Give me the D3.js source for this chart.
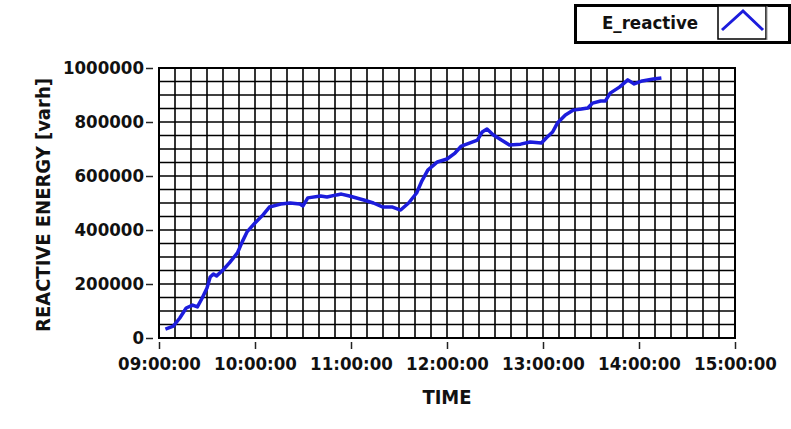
<!DOCTYPE html>
<html lang="en">
<head>
<meta charset="UTF-8" />
<style>
  body { margin: 0; background: #fff; }
  text { font-family: "DejaVu Sans", sans-serif; font-stretch: condensed; font-weight: bold; fill: #111; }
</style>
</head>
<body>
<svg width="791" height="429"></svg>
<script src="https://d3js.org/d3.v7.min.js"></script>
<script>
// sample times (HH:MM) and reactive energy in varh
var times = ["09:04","09:09","09:13","09:17","09:21","09:24","09:27","09:30","09:32","09:34",
  "09:36","09:40","09:44","09:49","09:52","09:55","10:00","10:05","10:09","10:16",
  "10:22","10:28","10:30","10:33","10:41","10:45","10:51","10:54","10:59","11:08",
  "11:14","11:20","11:26","11:31","11:36","11:41","11:44","11:48","11:54","12:00",
  "12:05","12:09","12:14","12:19","12:22","12:25","12:29","12:34","12:39","12:46",
  "12:52","12:59","13:02","13:06","13:09","13:14","13:19","13:24","13:28","13:31",
  "13:36","13:39","13:42","13:48","13:53","13:57","14:02","14:09","14:14"];
var energy = [33000,44000,74000,111000,122000,115000,148000,185000,226000,237000,
  230000,252000,278000,315000,356000,393000,426000,456000,485000,496000,
  500000,496000,489000,519000,526000,522000,530000,533000,526000,511000,
  500000,485000,485000,474000,500000,537000,578000,622000,652000,663000,
  685000,711000,722000,733000,763000,774000,752000,733000,715000,718000,
  726000,722000,741000,763000,796000,826000,844000,848000,852000,870000,
  878000,878000,907000,930000,956000,941000,952000,959000,963000];
var xTickHours = [9, 10, 11, 12, 13, 14, 15];
var yTicks = [0, 200000, 400000, 600000, 800000, 1000000];
var seriesName = "E_reactive";

function toHours(s) {
    var p = s.split(":");
    return +p[0] + (+p[1]) / 60;
}
function hourLabel(h) {
    return (h < 10 ? "0" : "") + h + ":00:00";
}

var data = times.map(function (t, i) { return { h: toHours(t), v: energy[i] }; });

var svg = d3.select("svg");
var plotLeft = 159, plotRight = 735, plotTop = 68, plotBottom = 338;

var x = d3.scaleLinear().domain([9, 15]).range([plotLeft, plotRight]);
var y = d3.scaleLinear().domain([0, 1000000]).range([plotBottom, plotTop]);

// grid: 10 minute columns, 50000 varh rows
var grid = svg.append("g").attr("stroke", "#000").attr("stroke-width", 1.6);
grid.selectAll("line.v").data(d3.range(0, 37)).enter().append("line")
    .attr("x1", d => x(9 + d / 6)).attr("x2", d => x(9 + d / 6))
    .attr("y1", plotTop).attr("y2", plotBottom);
grid.selectAll("line.h").data(d3.range(0, 21)).enter().append("line")
    .attr("x1", plotLeft).attr("x2", plotRight)
    .attr("y1", d => y(d * 50000)).attr("y2", d => y(d * 50000));

svg.append("rect")
    .attr("x", plotLeft).attr("y", plotTop)
    .attr("width", plotRight - plotLeft).attr("height", plotBottom - plotTop)
    .attr("fill", "none").attr("stroke", "#000").attr("stroke-width", 2);

// the series
svg.append("path")
    .datum(data)
    .attr("fill", "none")
    .attr("stroke", "#1c1cdc")
    .attr("stroke-width", 3.5)
    .attr("stroke-linejoin", "round")
    .attr("d", d3.line().x(d => x(d.h)).y(d => y(d.v)));

// axes
var yAxis = svg.append("g")
    .attr("transform", "translate(153,0)")
    .call(d3.axisLeft(y).tickValues(yTicks).tickSize(7).tickPadding(2).tickFormat(d3.format("d")));
yAxis.select(".domain").remove();
yAxis.selectAll("line").attr("stroke", "#222").attr("stroke-width", 1.5);
yAxis.selectAll("text").attr("font-size", "18.5px").attr("fill", "#111");

var xAxis = svg.append("g")
    .attr("transform", "translate(0,342)")
    .call(d3.axisBottom(x).tickValues(xTickHours).tickSize(7).tickPadding(8).tickFormat(hourLabel));
xAxis.select(".domain").remove();
xAxis.selectAll("line").attr("stroke", "#222").attr("stroke-width", 1.5);
xAxis.selectAll("text").attr("font-size", "18.5px").attr("fill", "#111");

svg.append("text")
    .attr("x", (plotLeft + plotRight) / 2).attr("y", 404)
    .attr("text-anchor", "middle").attr("font-size", "20px")
    .text("TIME");

svg.append("text")
    .attr("transform", "translate(50," + ((plotTop + plotBottom) / 2 + 2) + ") rotate(-90)")
    .attr("text-anchor", "middle").attr("font-size", "20px")
    .text("REACTIVE ENERGY [varh]");

// legend
var lg = svg.append("g");
lg.append("rect").attr("x", 575.5).attr("y", 5.5).attr("width", 214).attr("height", 37)
    .attr("fill", "#fff").attr("stroke", "#000").attr("stroke-width", 3);
lg.append("rect").attr("x", 718).attr("y", 6).attr("width", 48).attr("height", 33)
    .attr("fill", "#fff").attr("stroke", "#000").attr("stroke-width", 1.5);
lg.append("line").attr("x1", 767).attr("x2", 767).attr("y1", 6).attr("y2", 40)
    .attr("stroke", "#999").attr("stroke-width", 1);
lg.append("text").attr("x", 650).attr("y", 29).attr("text-anchor", "middle")
    .attr("font-size", "18.5px").text(seriesName);
lg.append("path")
    .attr("d", d3.line()([[722, 30], [743, 11], [763, 30]]))
    .attr("fill", "none").attr("stroke", "#1c1cdc").attr("stroke-width", 3);
</script>
</body>
</html>
